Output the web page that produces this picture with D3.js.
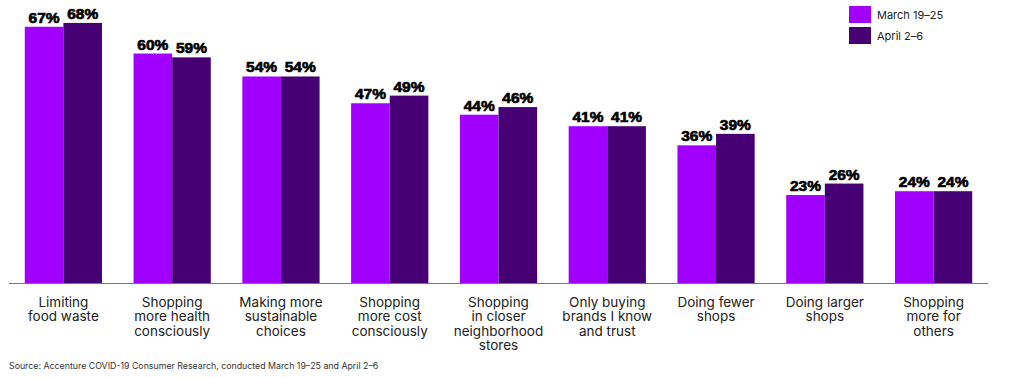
<!DOCTYPE html>
<html><head><meta charset="utf-8">
<script src="https://cdn.jsdelivr.net/npm/d3@7"></script>
<style>body{margin:0;background:#fff;} svg{display:block;}</style>
</head><body>
<svg id="c" width="1024" height="378"></svg>
<script>
const categories = [
  ["Limiting","food waste"],
  ["Shopping","more health","consciously"],
  ["Making more","sustainable","choices"],
  ["Shopping","more cost","consciously"],
  ["Shopping","in closer","neighborhood","stores"],
  ["Only buying","brands I know","and trust"],
  ["Doing fewer","shops"],
  ["Doing larger","shops"],
  ["Shopping","more for","others"]
];
const seriesNames = ["March 19\u201325","April 2\u20136"];
const march = [67,60,54,47,44,41,36,23,24];
const april = [68,59,54,49,46,41,39,26,24];
const sourceText = "Source: Accenture COVID-19 Consumer Research, conducted March 19\u201325 and April 2\u20136";
const colors = ["#A100FF","#460073"];

const svg = d3.select("#c");
const x0 = d3.scaleBand().domain(d3.range(categories.length)).range([9,988]).paddingInner(0.29).paddingOuter(0.145);
const x1 = d3.scaleBand().domain([0,1]).range([0,x0.bandwidth()]);
const y = d3.scaleLinear().domain([0,74]).range([283,0]);

const data = [march, april];
const g = svg.append("g");
categories.forEach((c,i)=>{
  data.forEach((s,j)=>{
    g.append("rect").attr("x",x0(i)+x1(j)).attr("y",y(s[i])).attr("width",x1.bandwidth()).attr("height",y(0)-y(s[i])).attr("fill",colors[j]);
    g.append("text").attr("x",x0(i)+x1(j)+x1.bandwidth()/2).attr("y",y(s[i])-4)
      .attr("text-anchor","middle").attr("font-family","Liberation Sans, Arial, sans-serif")
      .attr("font-weight","bold").attr("font-size",15.5).attr("fill","#000")
      .attr("stroke","#000").attr("stroke-width",0.7).text(s[i]+"%");
  });
});
svg.append("line").attr("x1",9).attr("x2",988).attr("y1",283.5).attr("y2",283.5).attr("stroke","#777").attr("stroke-width",1.2);

categories.forEach((c,i)=>{
  const t = svg.append("text").attr("text-anchor","middle").attr("font-family","Inter, Noto Sans, sans-serif")
    .attr("font-size",13.5).attr("fill","#222");
  c.forEach((line,k)=>{
    t.append("tspan").attr("x",x0(i)+x0.bandwidth()/2).attr("y",307+k*14.3).text(line);
  });
});

svg.append("text").attr("x",9).attr("y",369).attr("font-family","Inter, Noto Sans, sans-serif").attr("font-size",8.8).attr("fill","#333").text(sourceText);

const lg = svg.append("g");
seriesNames.forEach((n,j)=>{
  lg.append("rect").attr("x",849).attr("y",6+j*21).attr("width",22).attr("height",17).attr("fill",colors[j]);
  lg.append("text").attr("x",877).attr("y",19+j*21).attr("font-family","Inter, Noto Sans, sans-serif").attr("font-size",11).attr("fill","#222").text(n);
});
</script>
</body></html>
